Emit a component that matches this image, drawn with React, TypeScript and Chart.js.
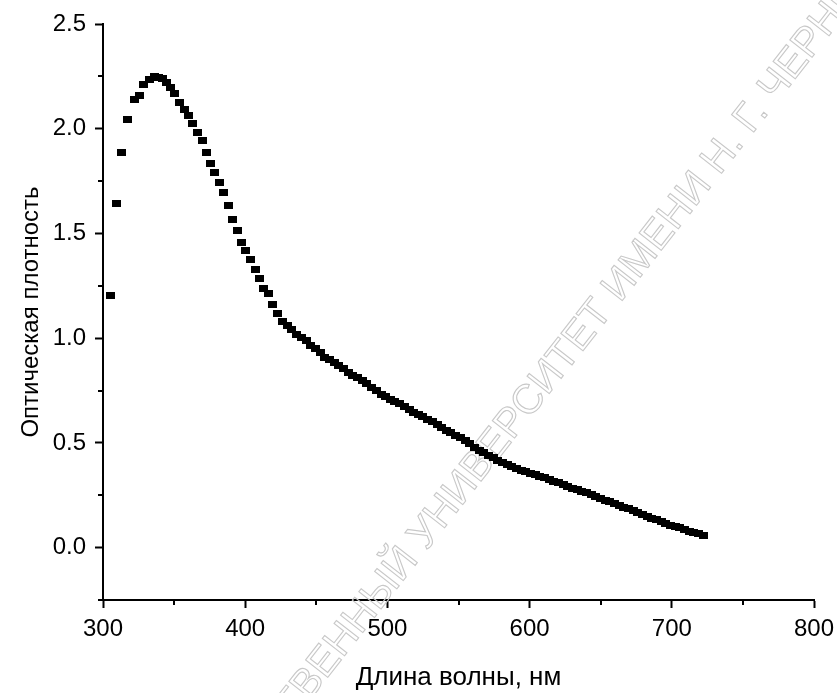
import React, { useEffect, useRef } from 'react';
import { Chart, registerables } from 'chart.js';

Chart.register(...registerables);

const WAVELENGTH_NM = [
  305.1, 309.8, 312.9, 317.3, 322.2, 325.7, 328.5, 332.7, 336.1, 339.1,
  341.5, 344.5, 347.3, 350.3, 353.8, 357.1, 360.2, 363.2, 366.5, 369.8,
  372.8, 375.9, 378.7, 382.0, 385.0, 388.3, 391.4, 394.6, 397.4, 400.5,
  404.0, 407.0, 410.0, 412.9, 416.4, 419.5, 422.7, 426.0, 429.7, 432.8,
  436.3, 439.6, 442.9, 446.2, 449.5, 452.7, 456.0, 459.3, 462.6, 465.9,
  469.2, 472.5, 475.7, 479.0, 482.3, 485.6, 488.9, 492.2, 495.5, 498.7,
  502.0, 505.3, 508.6, 511.9, 515.2, 518.5, 521.7, 525.0, 528.3, 531.6,
  534.9, 538.2, 541.5, 544.7, 548.0, 551.3, 554.6, 557.9, 561.2, 564.5,
  567.7, 571.0, 574.3, 577.6, 580.9, 584.2, 587.5, 590.7, 594.0, 597.3,
  600.6, 603.9, 607.2, 610.5, 613.7, 617.0, 620.3, 623.6, 626.9, 630.2,
  633.5, 636.7, 640.0, 643.3, 646.6, 649.9, 653.2, 656.5, 659.7, 663.0,
  666.3, 669.6, 672.9, 676.2, 679.5, 682.7, 686.0, 689.3, 692.6, 695.9,
  699.2, 702.5, 705.7, 709.0, 712.3, 715.6, 718.9, 722.2,
];

const ABSORBANCE = [
  1.203, 1.641, 1.887, 2.043, 2.138, 2.158, 2.211, 2.235, 2.250, 2.246,
  2.240, 2.222, 2.195, 2.168, 2.126, 2.092, 2.063, 2.023, 1.983, 1.943,
  1.887, 1.833, 1.792, 1.744, 1.696, 1.633, 1.566, 1.515, 1.459, 1.419,
  1.375, 1.327, 1.287, 1.239, 1.211, 1.160, 1.120, 1.080, 1.062, 1.040,
  1.016, 1.004, 0.988, 0.966, 0.950, 0.930, 0.910, 0.896, 0.883, 0.868,
  0.853, 0.838, 0.824, 0.810, 0.797, 0.783, 0.766, 0.750, 0.733, 0.722,
  0.708, 0.697, 0.686, 0.673, 0.660, 0.645, 0.634, 0.624, 0.613, 0.602,
  0.590, 0.575, 0.560, 0.549, 0.537, 0.527, 0.512, 0.496, 0.480, 0.464,
  0.452, 0.440, 0.428, 0.418, 0.406, 0.396, 0.388, 0.378, 0.370, 0.362,
  0.354, 0.347, 0.340, 0.333, 0.325, 0.317, 0.309, 0.300, 0.293, 0.284,
  0.276, 0.268, 0.261, 0.254, 0.245, 0.236, 0.227, 0.218, 0.210, 0.202,
  0.193, 0.185, 0.177, 0.167, 0.158, 0.149, 0.140, 0.132, 0.124, 0.116,
  0.108, 0.101, 0.094, 0.086, 0.079, 0.073, 0.066, 0.060,
];

const X_TICKS = [300, 400, 500, 600, 700, 800];
const X_MINOR_TICKS = [350, 450, 550, 650, 750];
const Y_TICKS = [0, 0.5, 1.0, 1.5, 2.0, 2.5];
const Y_MINOR_TICKS = [-0.25, 0.25, 0.75, 1.25, 1.75, 2.25];
const X_TITLE = 'Длина волны, нм';
const Y_TITLE = 'Оптическая плотность';
const WATERMARK = 'САРАТОВСКИЙ ГОСУДАРСТВЕННЫЙ УНИВЕРСИТЕТ ИМЕНИ Н. Г. ЧЕРНЫШЕВСКОГО';
const WATERMARK_ANCHOR_PREFIX = 'САРАТОВСКИЙ ГОСУДАРСТВЕННЫЙ УНИ';

const FONT = '"Liberation Sans", Arial, Helvetica, sans-serif';

const minorTicksPlugin = {
  id: 'minorTicks',
  afterDraw(chart: any) {
    const { ctx, chartArea, scales } = chart;
    ctx.save();
    ctx.strokeStyle = '#000';
    ctx.lineWidth = 2;
    X_MINOR_TICKS.forEach((v) => {
      const x = Math.round(scales.x.getPixelForValue(v));
      ctx.beginPath();
      ctx.moveTo(x, chartArea.bottom);
      ctx.lineTo(x, chartArea.bottom + 5);
      ctx.stroke();
    });
    Y_MINOR_TICKS.forEach((v) => {
      const y = Math.round(scales.y.getPixelForValue(v));
      ctx.beginPath();
      ctx.moveTo(chartArea.left, y);
      ctx.lineTo(chartArea.left - 5, y);
      ctx.stroke();
    });
    ctx.restore();
  },
};

const watermarkPlugin = {
  id: 'watermark',
  beforeDatasetsDraw(chart: any) {
    const ctx = chart.ctx;
    ctx.save();
    ctx.font = '41px ' + FONT;
    const pre = ctx.measureText(WATERMARK_ANCHOR_PREFIX).width;
    const ang = (-52 * Math.PI) / 180;
    const ax = 470;
    const ay = 477;
    ctx.translate(ax - pre * Math.cos(ang), ay - pre * Math.sin(ang));
    ctx.rotate(ang);
    ctx.textBaseline = 'middle';
    ctx.textAlign = 'left';
    ctx.strokeStyle = '#c8c8c8';
    ctx.lineWidth = 1.1;
    ctx.strokeText(WATERMARK, 0, 0);
    ctx.restore();
  },
};

export default function App() {
  const ref = useRef<HTMLCanvasElement | null>(null);

  useEffect(() => {
    if (!ref.current) return;
    const marker = document.createElement('canvas');
    marker.width = 9;
    marker.height = 7;
    const mctx = marker.getContext('2d');
    if (mctx) {
      mctx.fillStyle = '#000';
      mctx.fillRect(0, 0, 9, 7);
    }

    const points = WAVELENGTH_NM.map((x, i) => ({ x, y: ABSORBANCE[i] }));

    const chart = new Chart(ref.current, {
      type: 'scatter',
      data: {
        datasets: [
          {
            data: points,
            pointStyle: marker as any,
            pointRadius: 4,
            pointHoverRadius: 4,
            showLine: false,
            backgroundColor: '#000',
            borderColor: '#000',
          },
        ],
      },
      options: {
        animation: false,
        responsive: true,
        maintainAspectRatio: false,
        layout: { padding: { left: 0, top: 24, right: 23, bottom: 0 } },
        plugins: {
          legend: { display: false },
          tooltip: { enabled: false },
        },
        scales: {
          x: {
            type: 'linear',
            min: 300,
            max: 800,
            afterFit(s: any) {
              s.height = 93;
              s.paddingLeft = 0;
              s.paddingRight = 0;
            },
            afterBuildTicks(s: any) {
              s.ticks = X_TICKS.map((v) => ({ value: v }));
            },
            grid: {
              drawOnChartArea: false,
              drawTicks: true,
              tickLength: 8,
              tickColor: '#000',
              tickWidth: 2,
            },
            border: { display: true, color: '#000', width: 2 },
            ticks: {
              color: '#000',
              font: { family: FONT, size: 24 },
              padding: 7,
              maxRotation: 0,
              autoSkip: false,
              callback: (v: any) => String(v),
            },
            title: {
              display: true,
              text: X_TITLE,
              color: '#000',
              font: { family: FONT, size: 26 },
              padding: { top: 0, bottom: 0 },
            },
          },
          y: {
            type: 'linear',
            min: -0.25,
            max: 2.5,
            afterFit(s: any) {
              s.width = 103;
              s.paddingTop = 0;
              s.paddingBottom = 0;
            },
            afterBuildTicks(s: any) {
              s.ticks = Y_TICKS.map((v) => ({ value: v }));
            },
            grid: {
              drawOnChartArea: false,
              drawTicks: true,
              tickLength: 8,
              tickColor: '#000',
              tickWidth: 2,
            },
            border: { display: true, color: '#000', width: 2 },
            ticks: {
              color: '#000',
              font: { family: FONT, size: 24 },
              padding: 9,
              autoSkip: false,
              callback: (v: any) => Number(v).toFixed(1),
            },
            title: {
              display: true,
              text: Y_TITLE,
              color: '#000',
              font: { family: FONT, size: 24 },
              padding: { top: 17, bottom: 0 },
            },
          },
        },
      },
      plugins: [watermarkPlugin, minorTicksPlugin],
    } as any);

    return () => chart.destroy();
  }, []);

  return (
    <div style={{ position: 'fixed', left: 0, top: 0, width: 837, height: 693, background: '#fff' }}>
      <canvas ref={ref} />
    </div>
  );
}
